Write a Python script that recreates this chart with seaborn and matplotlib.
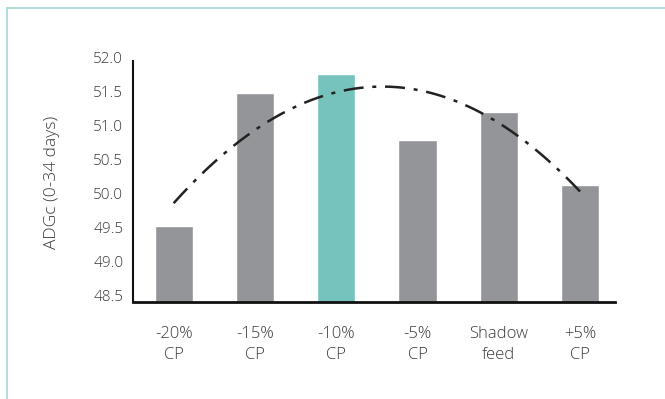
import numpy as np
import pandas as pd
import matplotlib
matplotlib.use("Agg")
import matplotlib.pyplot as plt
from matplotlib.patches import Rectangle
import seaborn as sns

# data
diets = ["-20%\nCP", "-15%\nCP", "-10%\nCP", "-5%\nCP", "Shadow\nfeed", "+5%\nCP"]
adg = [49.52, 51.47, 51.75, 50.78, 51.19, 50.12]
bar_colors = ["#939598", "#939598", "#75c3bc", "#939598", "#939598", "#939598"]

df = pd.DataFrame({"diet": diets, "adg": adg})

sns.set_style("white")
plt.rcParams["font.family"] = ["Open Sans", "DejaVu Sans"]
plt.rcParams["font.weight"] = "light"
plt.rcParams["axes.labelweight"] = "light"
text_col = "#3a3a3a"

fig = plt.figure(figsize=(6.65, 3.99), dpi=100)
ax = fig.add_axes([0.2, 0.2431, 0.725, 0.614])

sns.barplot(data=df, x="diet", y="adg", hue="diet", palette=bar_colors,
            width=0.47, legend=False, ax=ax, saturation=1)

# quadratic trend through the bar values
pos = np.arange(len(adg))
coef = np.polyfit(pos, adg, 2)
xs = np.linspace(0, len(adg) - 1, 200)
ax.plot(xs, np.polyval(coef, xs), color="#222222", lw=1.8,
        dashes=(8, 3.5, 1.6, 3.5))

ax.set_ylim(48.4, 52.0)
ax.set_xlim(-0.5, 5.43)
ax.set_yticks(np.arange(48.5, 52.01, 0.5))
ax.set_yticklabels([f"{v:.1f}" for v in np.arange(48.5, 52.01, 0.5)])
ax.set_xlabel("")
ax.set_ylabel("ADGc (0-34 days)", fontsize=12.5, color=text_col, fontweight="light")
ax.yaxis.set_label_coords(-0.152, 0.49)

ax.tick_params(axis="y", length=0, pad=7, labelsize=11, labelcolor=text_col)
ax.tick_params(axis="x", length=0, pad=17, labelsize=12, labelcolor=text_col)
for lab in ax.get_xticklabels():
    lab.set_linespacing(1.45)

sns.despine(ax=ax)
ax.spines["left"].set_bounds(48.4, 51.94)
ax.spines["left"].set_color("#111111")
ax.spines["left"].set_linewidth(1.5)
ax.spines["bottom"].set_color("#111111")
ax.spines["bottom"].set_linewidth(2)

# light teal frame around the figure
fig.patches.append(Rectangle((0.0105, -0.1), 1.2, 1.08, transform=fig.transFigure,
                             fill=False, edgecolor="#b3ddd9", lw=1.5))

fig.savefig("out.png", dpi=100)
